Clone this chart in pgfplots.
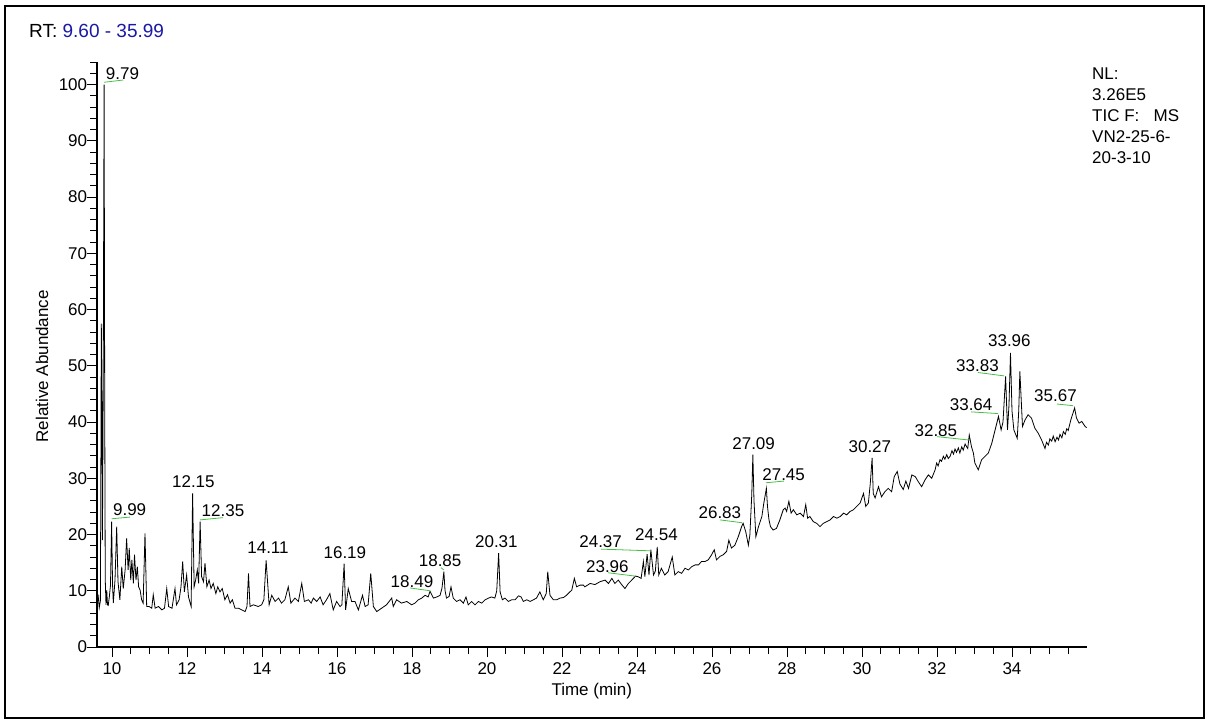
\documentclass[border=0pt]{standalone}
\usepackage{pgfplots}
\pgfplotsset{compat=1.18}
\usepackage{fontspec}
\setmainfont{Liberation Sans}
\definecolor{rtblue}{RGB}{25,25,165}
\definecolor{lblgreen}{RGB}{70,190,70}
\begin{document}
\begin{tikzpicture}
\fontsize{17}{20}\selectfont
\useasboundingbox (0pt,0pt) rectangle (1206pt,-721pt);
\draw[line width=1.8pt] (5pt,-6pt) rectangle (1204pt,-718pt);
\node[anchor=base west, inner sep=0pt, font=\fontsize{19}{22}\selectfont] at (29pt,-37pt) {RT: \textcolor{rtblue}{9.60 - 35.99}};
\node[anchor=north west, inner sep=0pt, align=left, font=\fontsize{17}{21}\selectfont] at (1092pt,-68pt) {NL:\\3.26E5\\TIC F:\ \ \ MS\\VN2-25-6-\\20-3-10};
\begin{axis}[
  at={(97pt,-647pt)}, anchor=south west,
  scale only axis, width=989.6pt, height=585pt,
  xmin=9.6, xmax=35.99, ymin=0, ymax=104,
  axis x line=bottom, axis y line=left,
  axis line style={-, line width=1.2pt},
  xtick={10,12,...,34}, minor xtick={10,10.5,...,35.5},
  ytick={0,10,...,100}, minor ytick={0,2,...,104},
  tick align=outside,
  major tick length=10pt, minor tick length=7pt,
  every tick/.style={black, line width=0.9pt},
  xlabel={Time (min)}, ylabel={Relative Abundance},
  tick label style={font=\fontsize{17}{20}\selectfont},
  yticklabel style={xshift=6pt},
  label style={font=\fontsize{17}{20}\selectfont},
  /pgf/number format/assume math mode=true,
  x label style={at={(axis description cs:0.5,0)}, anchor=center, yshift=-44pt},
  y label style={at={(axis description cs:-0.0556,0.48)}, anchor=center},
  clip=false,
]
\addplot[black, line width=0.8pt] coordinates {
(9.60,9.0)(9.63,9.2)(9.66,7.0)(9.69,8.2)(9.70,25)(9.715,57.5)(9.73,45)(9.745,19)(9.765,45)(9.79,100)
(9.805,45)(9.82,12)(9.84,7.5)(9.86,10.1)(9.88,7.5)(9.90,7.4)(9.93,9.0)(9.96,11)(9.99,22.3)(10.015,11)
(10.035,7.8)(10.08,11.9)(10.125,21.4)(10.16,11.6)(10.21,8.4)(10.26,14.3)(10.30,10.4)(10.35,13.7)(10.39,19.3)(10.43,13.7)
(10.46,17.6)(10.50,11.9)(10.53,15.5)(10.57,11.3)(10.60,16.4)(10.64,11.9)(10.675,14.3)(10.71,10.7)(10.75,10.1)(10.79,8.4)
(10.83,7.8)(10.88,20.2)(10.925,7.2)(10.99,7.2)(11.06,6.9)(11.10,9.3)(11.15,6.9)(11.24,7.2)(11.33,6.6)(11.40,6.9)
(11.46,10.4)(11.51,7.2)(11.60,6.9)(11.68,10.4)(11.72,7.5)(11.79,8.4)(11.84,10.7)(11.885,15.2)(11.93,9.8)(11.99,12.8)
(12.04,8.9)(12.11,7.2)(12.15,27.3)(12.19,10.7)(12.23,11.9)(12.275,13.7)(12.31,11.3)(12.35,22.3)(12.39,12.5)(12.44,11.6)
(12.48,14.9)(12.53,10.7)(12.59,11.9)(12.64,10.4)(12.70,11.3)(12.77,9.5)(12.82,10.7)(12.88,9.8)(12.94,10.4)(13.01,8.4)
(13.08,9.3)(13.15,7.8)(13.21,8.4)(13.28,6.9)(13.37,6.9)(13.46,6.6)(13.55,6.3)(13.60,7.2)(13.64,13.1)(13.68,7.2)
(13.77,7.5)(13.90,7.2)(13.99,7.5)(14.05,8.4)(14.11,15.4)(14.19,7.5)(14.26,9.2)(14.35,8.1)(14.44,8.7)(14.52,7.8)
(14.61,8.4)(14.70,10.7)(14.77,7.8)(14.88,8.7)(14.97,8.1)(15.06,11.3)(15.13,8.1)(15.24,8.4)(15.31,7.8)(15.37,8.7)
(15.46,8.1)(15.55,8.9)(15.63,7.5)(15.72,8.4)(15.81,9.5)(15.90,6.6)(15.99,8.1)(16.08,7.2)(16.13,7.5)(16.19,14.8)
(16.23,6.6)(16.30,10.4)(16.39,8.1)(16.48,8.1)(16.57,6.6)(16.68,9.2)(16.75,7.2)(16.83,7.5)(16.90,13.1)(16.97,7.2)
(17.06,6.3)(17.19,6.9)(17.32,7.5)(17.46,8.7)(17.50,7.2)(17.59,8.4)(17.72,7.8)(17.86,8.1)(17.99,7.5)(18.08,7.8)
(18.17,8.4)(18.26,8.7)(18.35,9.2)(18.43,8.9)(18.48,9.9)(18.57,8.7)(18.66,8.9)(18.75,9.2)(18.80,10.5)(18.85,13.4)
(18.88,10.1)(18.92,8.7)(18.99,9.0)(19.04,10.7)(19.10,8.7)(19.19,8.1)(19.28,8.4)(19.37,7.8)(19.44,8.9)(19.50,7.5)
(19.59,8.1)(19.68,7.5)(19.77,8.1)(19.86,7.8)(19.95,8.4)(20.04,8.7)(20.12,8.9)(20.21,8.7)(20.26,10)(20.31,16.7)
(20.35,9.8)(20.41,8.4)(20.48,8.7)(20.57,8.1)(20.66,8.4)(20.75,8.4)(20.84,9.1)(20.91,8.9)(20.97,8.1)(21.06,8.4)
(21.15,8.1)(21.24,8.4)(21.32,8.7)(21.41,9.8)(21.50,8.4)(21.58,9.5)(21.62,13.4)(21.68,9.2)(21.77,8.4)(21.86,8.4)
(21.95,8.7)(22.04,8.8)(22.12,9.2)(22.21,9.8)(22.26,10.1)(22.33,12.2)(22.39,10.7)(22.48,11.0)(22.57,11.0)(22.61,10.7)
(22.75,11.3)(22.88,11.1)(23.01,11.6)(23.15,11.9)(23.24,11.3)(23.33,12.2)(23.41,11.3)(23.50,11.9)(23.59,11.1)(23.68,10.4)
(23.77,11.3)(23.86,11.9)(23.96,12.6)(24.03,12.5)(24.11,12.2)(24.17,15.2)(24.21,12.5)(24.27,16.5)(24.32,12.8)(24.37,17.3)
(24.44,12.8)(24.49,13.5)(24.54,17.8)(24.58,12.8)(24.65,14.0)(24.74,12.8)(24.83,13.4)(24.94,16.0)(25.01,12.8)(25.10,13.4)
(25.19,13.1)(25.28,14.0)(25.37,13.7)(25.46,14.3)(25.55,14.6)(25.64,14.6)(25.72,15.2)(25.81,15.2)(25.90,15.5)(25.99,16.4)
(26.06,17.3)(26.12,15.5)(26.21,16.1)(26.30,16.4)(26.39,17.0)(26.45,19.0)(26.52,17.6)(26.61,18.1)(26.70,19.6)(26.79,21.4)
(26.83,22.0)(26.90,20.5)(26.97,18.1)(27.01,19.9)(27.06,27.0)(27.09,34.2)(27.12,26.0)(27.17,19.6)(27.24,21.4)(27.33,23.2)
(27.38,25.5)(27.45,28.2)(27.48,25.0)(27.52,22.6)(27.56,21.4)(27.63,20.8)(27.72,21.1)(27.81,22.6)(27.90,24.4)(27.95,24.7)
(27.99,24.1)(28.05,25.9)(28.11,23.8)(28.17,24.4)(28.26,23.5)(28.35,23.8)(28.44,23.2)(28.50,25.3)(28.55,22.9)(28.61,23.2)
(28.70,22.3)(28.79,22.0)(28.88,21.4)(28.97,22.0)(29.06,22.3)(29.15,22.6)(29.24,23.2)(29.33,22.9)(29.42,23.2)(29.51,23.8)
(29.59,23.5)(29.68,24.1)(29.77,24.4)(29.86,25.0)(29.95,25.6)(30.04,27.3)(30.10,25.0)(30.17,25.6)(30.22,29)(30.27,33.6)
(30.30,27.3)(30.35,26.5)(30.44,28.5)(30.52,26.7)(30.61,27.6)(30.70,28.2)(30.79,27.6)(30.86,30.3)(30.94,31.2)(31.01,29.0)
(31.10,28.0)(31.17,29.5)(31.24,28.2)(31.33,30.6)(31.42,30.3)(31.50,29.4)(31.59,28.5)(31.68,29.7)(31.77,30.6)(31.86,30.0)
(31.95,31.5)(31.99,32.7)(32.03,32.2)(32.08,33.3)(32.12,33.0)(32.17,33.9)(32.21,33.4)(32.26,34.2)(32.30,33.5)(32.35,33.9)
(32.40,34.9)(32.44,34.3)(32.48,35.2)(32.52,34.6)(32.57,35.4)(32.61,34.5)(32.66,35.6)(32.70,35.0)(32.75,36.1)(32.79,35.6)
(32.82,35.3)(32.86,37.7)(32.92,35.6)(32.97,34.5)(33.01,32.7)(33.10,31.5)(33.19,33.3)(33.28,33.9)(33.37,34.5)
(33.46,36.2)(33.55,38.6)(33.64,41.0)(33.71,38.6)(33.76,40.0)(33.83,48.1)(33.88,38.6)(33.92,43.0)(33.96,52.3)(34.00,42.0)
(34.05,38.6)(34.14,37.1)(34.18,42.0)(34.21,49.0)(34.26,42.0)(34.28,39.2)(34.35,40.4)(34.43,41.3)(34.52,40.7)(34.61,38.9)
(34.70,38.0)(34.79,36.8)(34.88,35.3)(34.92,36.4)(34.97,35.9)(35.01,37.0)(35.06,36.6)(35.10,37.5)(35.15,36.5)(35.20,37.3)
(35.24,36.8)(35.28,37.8)(35.33,37.2)(35.37,38.3)(35.42,37.8)(35.46,38.8)(35.50,38.5)(35.54,39.6)(35.57,40.4)
(35.67,42.5)(35.72,40.7)(35.79,39.8)(35.86,40.1)(35.95,39.2)(35.99,39.0)
};
% green label leaders
\addplot[lblgreen, line width=0.8pt] coordinates {(9.79,100.4)(10.30,100.8)};
\addplot[lblgreen, line width=0.8pt] coordinates {(9.99,22.8)(10.48,23.1)};
\addplot[lblgreen, line width=0.8pt] coordinates {(12.35,22.6)(12.96,23.0)};
\addplot[lblgreen, line width=0.8pt] coordinates {(18.48,10.0)(17.95,10.5)};
\addplot[lblgreen, line width=0.8pt] coordinates {(18.85,13.7)(18.77,14.1)};
\addplot[lblgreen, line width=0.8pt] coordinates {(24.37,17.1)(23.04,17.4)};
\addplot[lblgreen, line width=0.8pt] coordinates {(23.96,12.6)(23.23,13.2)};
\addplot[lblgreen, line width=0.8pt] coordinates {(26.80,22.1)(26.21,22.6)};
\addplot[lblgreen, line width=0.8pt] coordinates {(27.44,29.2)(27.92,29.5)};
\addplot[lblgreen, line width=0.8pt] coordinates {(32.85,36.8)(32.00,37.4)};
\addplot[lblgreen, line width=0.8pt] coordinates {(33.63,41.5)(32.91,41.8)};
\addplot[lblgreen, line width=0.8pt] coordinates {(33.79,48.2)(33.09,48.8)};
\addplot[lblgreen, line width=0.8pt] coordinates {(35.63,42.9)(35.20,43.2)};
% peak labels
\node at (axis cs:10.28,102.0) {9.79};
\node at (axis cs:10.47,24.4) {9.99};
\node at (axis cs:12.17,29.4) {12.15};
\node at (axis cs:12.96,24.2) {12.35};
\node at (axis cs:14.16,17.6) {14.11};
\node at (axis cs:16.21,16.8) {16.19};
\node at (axis cs:18.00,11.7) {18.49};
\node at (axis cs:18.75,15.3) {18.85};
\node at (axis cs:20.25,18.8) {20.31};
\node at (axis cs:23.03,18.8) {24.37};
\node at (axis cs:23.21,14.3) {23.96};
\node at (axis cs:24.52,19.9) {24.54};
\node at (axis cs:26.21,23.8) {26.83};
\node at (axis cs:27.11,36.2) {27.09};
\node at (axis cs:27.91,30.6) {27.45};
\node at (axis cs:30.21,35.7) {30.27};
\node at (axis cs:31.97,38.4) {32.85};
\node at (axis cs:32.91,43.1) {33.64};
\node at (axis cs:33.08,50.1) {33.83};
\node at (axis cs:33.93,54.4) {33.96};
\node at (axis cs:35.16,44.6) {35.67};
\end{axis}
\end{tikzpicture}
\end{document}
